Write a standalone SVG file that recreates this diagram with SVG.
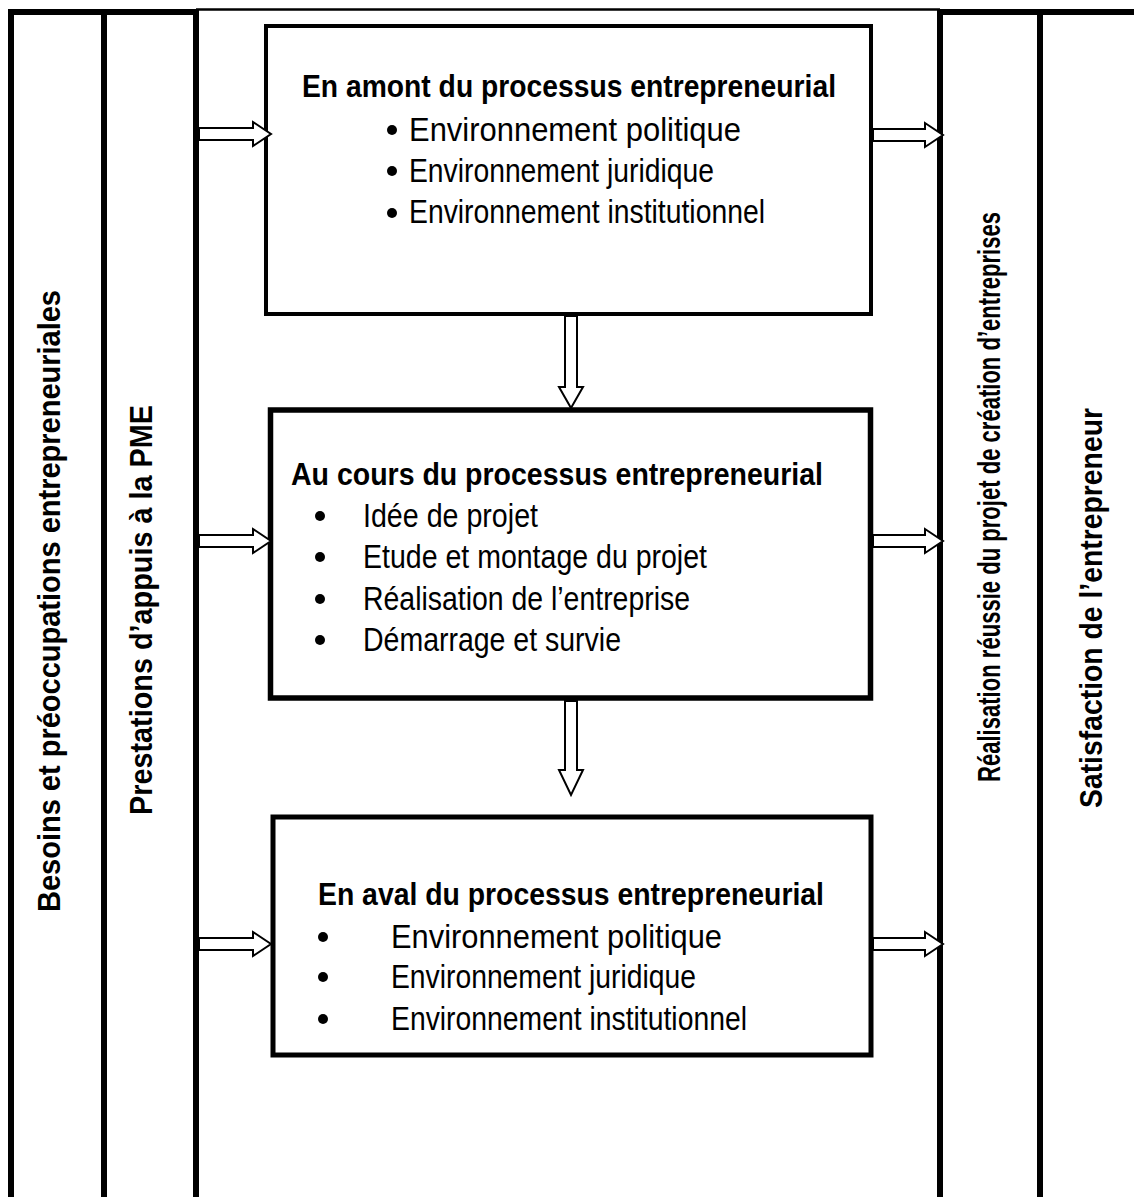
<svg xmlns="http://www.w3.org/2000/svg" width="1134" height="1197" viewBox="0 0 1134 1197">
<style>
.col{stroke:#000;stroke-width:6;fill:none}
.thin{stroke:#000;stroke-width:2.5;fill:none}
.box{fill:#fff;stroke:#000}
.arr{fill:#fff;stroke:#000;stroke-width:2;stroke-linejoin:miter}
.t{font-family:"Liberation Sans",Arial,sans-serif;font-weight:bold;font-size:32px;fill:#000}
.b{font-family:"Liberation Sans",Arial,sans-serif;font-size:33px;fill:#000}
.v{font-family:"Liberation Sans",Arial,sans-serif;font-weight:bold;font-size:31px;fill:#000;text-anchor:middle}
</style>
<rect width="1134" height="1197" fill="#fff"/>
<g id="frame">
<line class="col" x1="8" y1="12" x2="199" y2="12"/>
<line class="thin" x1="196" y1="9.5" x2="940" y2="9.5"/>
<line class="col" x1="937" y1="12" x2="1134" y2="12"/>
<line class="col" x1="11" y1="9" x2="11" y2="1197"/>
<line class="col" x1="104" y1="9" x2="104" y2="1197"/>
<line class="col" x1="196" y1="9" x2="196" y2="1197"/>
<line class="col" x1="940" y1="9" x2="940" y2="1197"/>
<line class="col" x1="1040" y1="9" x2="1040" y2="1197"/>
</g>
<g id="col-besoins">
<text class="v" transform="translate(60,601) rotate(-90)" textLength="622" lengthAdjust="spacingAndGlyphs">Besoins et préoccupations entrepreneuriales</text>
</g>
<g id="col-prestations">
<text class="v" transform="translate(152,610) rotate(-90)" textLength="410" lengthAdjust="spacingAndGlyphs">Prestations d’appuis à la PME</text>
</g>
<g id="col-realisation">
<text class="v" transform="translate(1000,497) rotate(-90) scale(0.712,1)">Réalisation réussie du projet de création d’entreprises</text>
</g>
<g id="col-satisfaction">
<text class="v" transform="translate(1102,608) rotate(-90)" textLength="400" lengthAdjust="spacingAndGlyphs">Satisfaction de l’entrepreneur</text>
</g>
<g id="box-amont">
<rect class="box" x="266" y="26" width="605" height="288" stroke-width="4"/>
<text class="t" x="302" y="97" textLength="534" lengthAdjust="spacingAndGlyphs">En amont du processus entrepreneurial</text>
<circle cx="392" cy="130" r="5"/>
<circle cx="392" cy="171" r="5"/>
<circle cx="392" cy="213" r="5"/>
<text class="b" x="409" y="141" textLength="332" lengthAdjust="spacingAndGlyphs">Environnement politique</text>
<text class="b" x="409" y="182" textLength="305" lengthAdjust="spacingAndGlyphs">Environnement juridique</text>
<text class="b" x="409" y="223" textLength="356" lengthAdjust="spacingAndGlyphs">Environnement institutionnel</text>
</g>
<g id="box-cours">
<rect class="box" x="270.5" y="410" width="600" height="288" stroke-width="5.5"/>
<text class="t" x="291" y="485" textLength="532" lengthAdjust="spacingAndGlyphs">Au cours du processus entrepreneurial</text>
<circle cx="320" cy="516" r="5"/>
<circle cx="320" cy="557" r="5"/>
<circle cx="320" cy="599" r="5"/>
<circle cx="320" cy="640" r="5"/>
<text class="b" x="363" y="527" textLength="175" lengthAdjust="spacingAndGlyphs">Idée de projet</text>
<text class="b" x="363" y="568" textLength="344" lengthAdjust="spacingAndGlyphs">Etude et montage du projet</text>
<text class="b" x="363" y="610" textLength="327" lengthAdjust="spacingAndGlyphs">Réalisation de l’entreprise</text>
<text class="b" x="363" y="651" textLength="258" lengthAdjust="spacingAndGlyphs">Démarrage et survie</text>
</g>
<g id="box-aval">
<rect class="box" x="273" y="817" width="598" height="238" stroke-width="5"/>
<text class="t" x="318" y="905" textLength="506" lengthAdjust="spacingAndGlyphs">En aval du processus entrepreneurial</text>
<circle cx="323" cy="937" r="5"/>
<circle cx="323" cy="977" r="5"/>
<circle cx="323" cy="1019" r="5"/>
<text class="b" x="391" y="948" textLength="331" lengthAdjust="spacingAndGlyphs">Environnement politique</text>
<text class="b" x="391" y="988" textLength="305" lengthAdjust="spacingAndGlyphs">Environnement juridique</text>
<text class="b" x="391" y="1030" textLength="356" lengthAdjust="spacingAndGlyphs">Environnement institutionnel</text>
</g>
<g id="connectors">
<polygon class="arr" points="199,128 253,128 253,122 271,134 253,146 253,140 199,140"/>
<polygon class="arr" points="873,129 925,129 925,123 943,135 925,147 925,141 873,141"/>
<polygon class="arr" points="199,535 253,535 253,529 271,541 253,553 253,547 199,547"/>
<polygon class="arr" points="873,535 925,535 925,529 943,541 925,553 925,547 873,547"/>
<polygon class="arr" points="199,938 253,938 253,932 271,944 253,956 253,950 199,950"/>
<polygon class="arr" points="873,938 925,938 925,932 943,944 925,956 925,950 873,950"/>
<polygon class="arr" points="565,316 577,316 577,387 583,387 571,408 559,387 565,387"/>
<polygon class="arr" points="565,701 577,701 577,770 583,770 571,795 559,770 565,770"/>
</g>
</svg>
